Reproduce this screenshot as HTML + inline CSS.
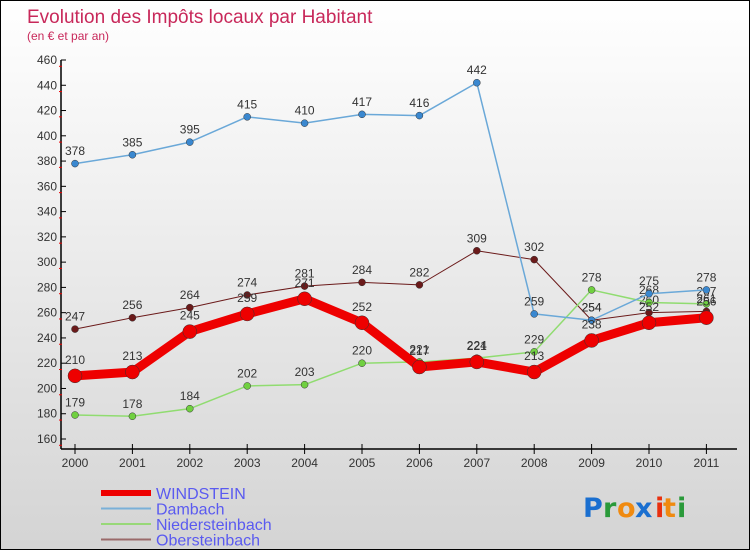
<!DOCTYPE html>
<html><head><meta charset="utf-8"><style>
html,body{margin:0;padding:0}
body{width:750px;height:550px;overflow:hidden;font-family:"Liberation Sans",sans-serif}
#wrap{position:relative;width:748px;height:548px;border:1px solid #000;background:linear-gradient(#ffffff,#d4d4d4)}
</style></head><body>
<div id="wrap">
<svg id="chart" width="748" height="548">
<text x="26" y="22" font-size="19" fill="#c8285a">Evolution des Impôts locaux par Habitant</text>
<text x="26" y="39" font-size="12" fill="#c8285a">(en € et par an)</text>
<g id="axes"></g><g id="series"></g><g id="legend"></g>
<g font-size="27" font-family="'DejaVu Sans',sans-serif" font-weight="bold">
<text x="582" y="516" fill="#1a6fd0">P</text><text x="602" y="516" fill="#2a9a3a">r</text><text x="616" y="516" fill="#f08a10">o</text><text x="634" y="516" fill="#1a6fd0">x</text><text x="654" y="516" fill="#e83010">i</text><text x="662" y="516" fill="#f08a10">t</text><text x="676" y="516" fill="#2a9a3a">i</text>
</g>
</svg>
</div>
<script>
const years=[2000,2001,2002,2003,2004,2005,2006,2007,2008,2009,2010,2011];
const windstein=[210,213,245,259,271,252,217,221,213,238,252,256];
const dambach=[378,385,395,415,410,417,416,442,259,254,275,278];
const niedersteinbach=[179,178,184,202,203,220,221,224,229,278,268,267];
const obersteinbach=[247,256,264,274,281,284,282,309,302,254,260,261];
const yTicks=[160,180,200,220,240,260,280,300,320,340,360,380,400,420,440,460];
const seriesNames=["WINDSTEIN","Dambach","Niedersteinbach","Obersteinbach"];

const NS="http://www.w3.org/2000/svg";
const X=i=>74+i*57.4;
const Y=v=>59+(460-v)*(379/300);
function mk(tag,attrs,parent){const e=document.createElementNS(NS,tag);for(const k in attrs)e.setAttribute(k,attrs[k]);parent.appendChild(e);return e;}
const axes=document.getElementById('axes');
const ya=mk('line',{x1:60,y1:59,x2:60,y2:448,stroke:'#000','stroke-width':1.5},axes);


const xa=mk('line',{x1:60,y1:448,x2:736,y2:448,stroke:'#000','stroke-width':1.5},axes);


yTicks.forEach(v=>{
  mk('line',{x1:60,y1:Y(v),x2:65,y2:Y(v),stroke:'#000'},axes);
  mk('line',{x1:58,y1:Y(v)+6.3,x2:61,y2:Y(v)+6.3,stroke:'#e00'},axes);
  const t=mk('text',{x:56,y:Y(v)+4,'font-size':12,'text-anchor':'end',fill:'#333'},axes);
  t.textContent=v;
  
  
});
years.forEach((y,i)=>{
  mk('line',{x1:X(i),y1:443,x2:X(i),y2:453,stroke:'#000'},axes);
  const t=mk('text',{x:X(i),y:466,'font-size':12,'text-anchor':'middle',fill:'#333'},axes);
  t.textContent=y;
  
  
});
const ser=document.getElementById('series');
const defs=[
  {d:obersteinbach,c:'#6b1a1a',w:1,r:3.5,n:'obersteinbach'},
  {d:niedersteinbach,c:'#90dc70',w:1.5,r:3.5,n:'niedersteinbach',f:'#70d040'},
  {d:dambach,c:'#6aa8d8',w:1.5,r:3.5,n:'dambach',f:'#3a88d0'},
  {d:windstein,c:'#ee0000',w:9,r:7,n:'windstein'}
];
defs.forEach(s=>{
  const g=mk('g',{},ser);
  
  
  const pl=mk('polyline',{points:s.d.map((v,i)=>X(i)+','+Y(v)).join(' '),fill:'none',stroke:s.c,'stroke-width':s.w,'stroke-linejoin':'round'},g);
  
  
  s.d.forEach((v,i)=>{
    const c=mk('circle',{cx:X(i),cy:Y(v),r:s.r,fill:s.f||s.c,stroke:'#333','stroke-width':0.5},g);
    
    
    const t=mk('text',{x:X(i),y:Y(v)-(s.r+5),'font-size':12,'text-anchor':'middle',fill:'#333'},g);
    t.textContent=v;
    
    
  });
});
const lg=document.getElementById('legend');
const lc=[['#ee0000',6],['#7ab0d8',2],['#98d878',2],['#9a6a6a',2]];
seriesNames.forEach((n,i)=>{
  const y=492+i*15.5;
  const g=mk('g',{},lg);
  
  
  mk('line',{x1:100,y1:y,x2:150,y2:y,stroke:lc[i][0],'stroke-width':lc[i][1]},g);
  const t=mk('text',{x:155,y:y+6,'font-size':16,fill:'#5a5af0'},g);
  t.textContent=n;
});
</script>
</body></html>
